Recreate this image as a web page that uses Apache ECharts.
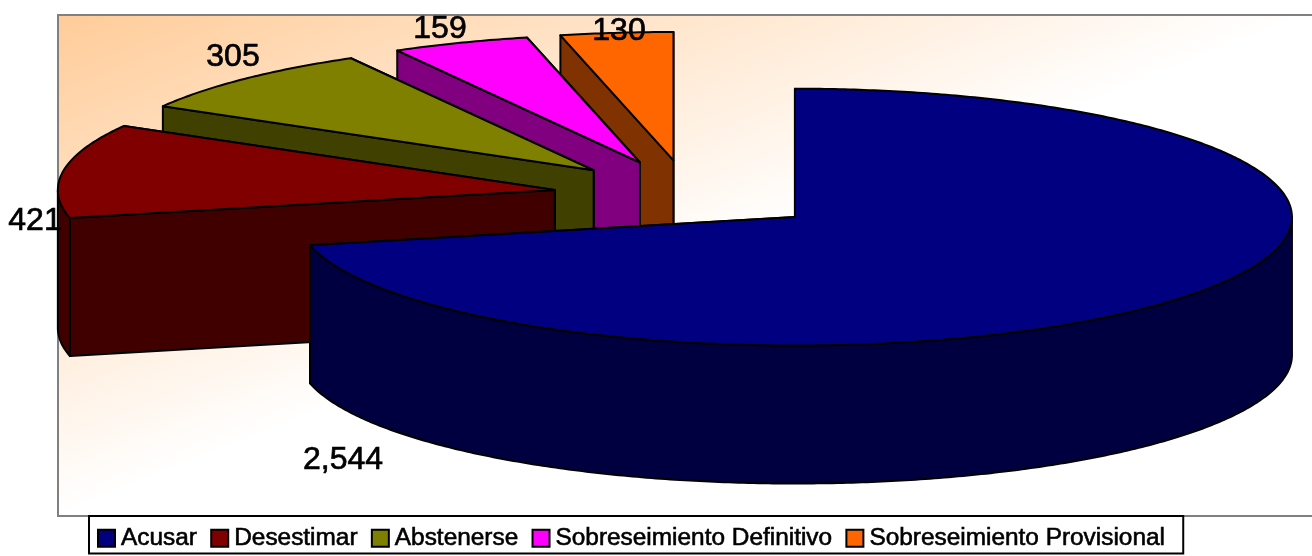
<!DOCTYPE html>
<html>
  <head>
    <meta charset="utf-8">
    <title>Pie 3D</title>
    <style>html,body{margin:0;padding:0;background:#fff;}</style>
  </head>
  <body>
    <div id="main" style="width:1312px;height:556px;"></div>
  </body>
  <script type="text/javascript" src="https://cdn.jsdelivr.net/npm/echarts@6/dist/echarts.min.js"></script>
  <script type="text/javascript">
      // data
      var categories = ['Acusar', 'Desestimar', 'Abstenerse', 'Sobreseimiento Definitivo', 'Sobreseimiento Provisional'];
      var values = [2544, 421, 305, 159, 130];
      var topColors = ['#000080', '#800000', '#808000', '#ff00ff', '#ff6600'];
      var wallColors = ['#000040', '#400000', '#404000', '#800080', '#803300'];
      // centre of each value label, placed by hand like the original
      var labelX = [343, 35, 233, 440, 619];
      var labelY = [460.5, 221, 57, 29.5, 31];

      // pie projection
      var cx = 689, cy = 195.2, rx = 497, ry = 128.4, depth = 138, explode = 0.273;
      var total = values.reduce(function (a, b) { return a + b; }, 0);

      function sliceAngles(i) {
          var before = 0;
          for (var k = 0; k < i; k++) before += values[k];
          return [before / total * Math.PI * 2, (before + values[i]) / total * Math.PI * 2];
      }

      // clockwise from 12 o'clock, squashed to an ellipse
      function rim(c, t, dy) {
          return [c[0] + rx * Math.sin(t), c[1] - ry * Math.cos(t) + (dy || 0)];
      }

      function arcPoints(c, a, b, dy) {
          var n = Math.max(2, Math.ceil((b - a) / 0.01));
          var pts = [];
          for (var k = 0; k <= n; k++) pts.push(rim(c, a + (b - a) * k / n, dy));
          return pts;
      }

      function face(points, fill) {
          return {
              type: 'polygon',
              shape: { points: points },
              style: { fill: fill, stroke: '#000', lineWidth: 2, lineJoin: 'round' }
          };
      }

      function renderSlice(i) {
          return function () {
              var ang = sliceAngles(i), a = ang[0], b = ang[1];
              var mid = (a + b) / 2;
              var c = [cx + rx * explode * Math.sin(mid), cy - ry * explode * Math.cos(mid)];
              var c2 = [c[0], c[1] + depth];
              var children = [];
              var pa = rim(c, a), pb = rim(c, b);

              // cut faces, back one first
              children.push(face([c, pb, rim(c, b, depth), c2], wallColors[i]));
              children.push(face([c, pa, rim(c, a, depth), c2], wallColors[i]));

              // outer wall, only the part that faces the viewer
              var from = Math.max(a, Math.PI / 2), to = Math.min(b, Math.PI * 1.5);
              if (to > from) {
                  var upper = arcPoints(c, from, to);
                  var lower = arcPoints(c, from, to, depth).reverse();
                  children.push(face(upper.concat(lower), wallColors[i]));
              }

              // top
              children.push(face([c].concat(arcPoints(c, a, b)), topColors[i]));
              return { type: 'group', children: children };
          };
      }

      var myChart = echarts.init(document.getElementById('main'));

      // last slice is painted first, Acusar ends up in front
      var series = [];
      for (var i = categories.length - 1; i >= 0; i--) {
          series.push({
              name: categories[i],
              type: 'custom',
              coordinateSystem: 'none',
              silent: true,
              itemStyle: { color: topColors[i] },
              renderItem: renderSlice(i),
              data: [[values[i]]]
          });
      }

      // value labels go on top of every slice
      series.push({
          type: 'custom',
          coordinateSystem: 'none',
          silent: true,
          z: 3,
          renderItem: function (params, api) {
              var k = params.dataIndex;
              return {
                  type: 'text',
                  style: {
                      x: labelX[k],
                      y: labelY[k],
                      text: api.value(0).toLocaleString('en-US'),
                      fill: '#000',
                      stroke: '#000',
                      lineWidth: 0.7,
                      font: '32px "Liberation Sans", Arial, sans-serif',
                      align: 'center',
                      verticalAlign: 'middle'
                  }
              };
          },
          data: values.map(function (v) { return [v]; })
      });

      myChart.setOption({
          animation: false,
          backgroundColor: '#fff',
          graphic: [{
              type: 'rect',
              z: 0,
              silent: true,
              shape: { x: 58, y: 15, width: 1300, height: 501 },
              style: {
                  fill: new echarts.graphic.LinearGradient(58, 15, 231, 447, [
                      { offset: 0, color: '#ffcc99' },
                      { offset: 1, color: '#ffffff' }
                  ], true),
                  stroke: '#808080',
                  lineWidth: 2
              }
          }],
          legend: {
              data: categories,
              left: 89,
              top: 516,
              orient: 'horizontal',
              backgroundColor: '#fff',
              borderColor: '#000',
              borderWidth: 2,
              padding: [10, 18, 3, 8],
              itemGap: 13,
              itemWidth: 17,
              itemHeight: 17,
              icon: 'rect',
              selectedMode: false,
              itemStyle: { borderColor: '#000', borderWidth: 2 },
              textStyle: {
                  color: '#000',
                  fontSize: 24.4,
                  fontFamily: '"Liberation Sans", Arial, sans-serif',
                  textBorderColor: '#000',
                  textBorderWidth: 0.6,
                  padding: [0, 0, 0, 1]
              }
          },
          series: series
      });
  </script>
</html>
